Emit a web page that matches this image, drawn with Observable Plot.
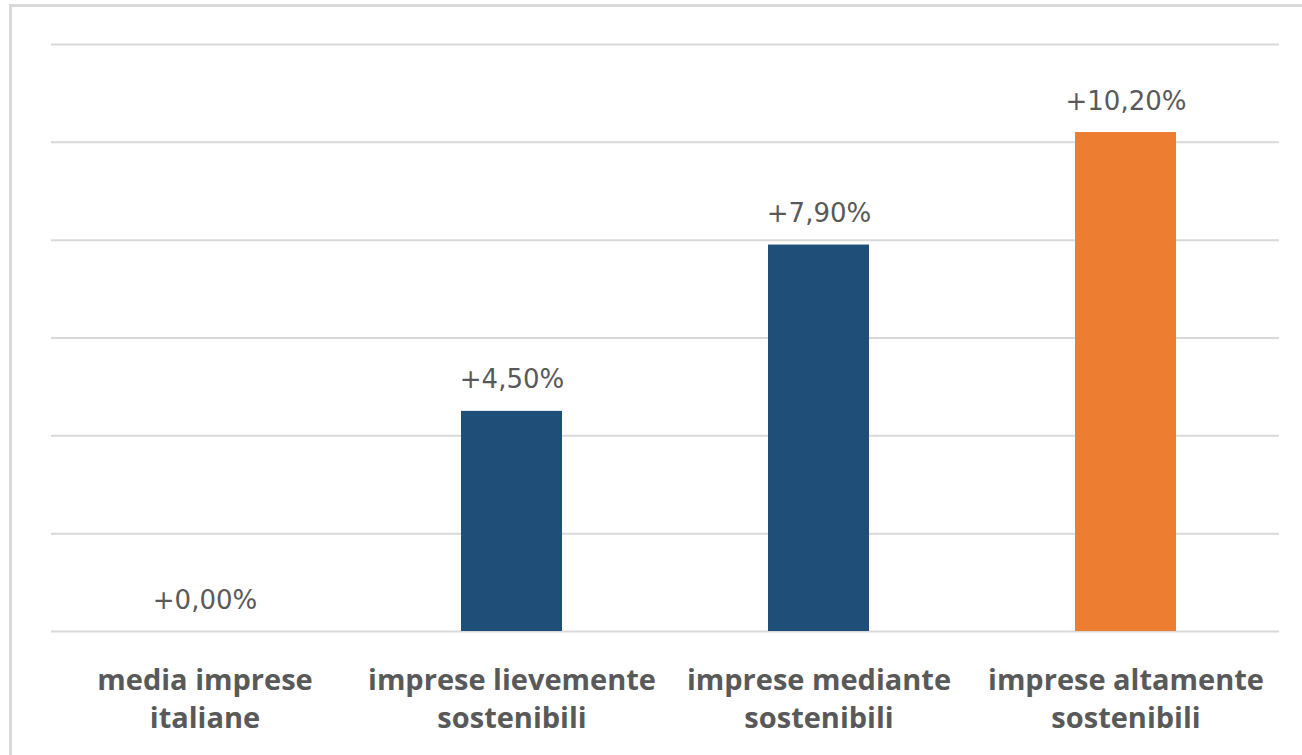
<!DOCTYPE html>
<html>
<head>
<meta charset="utf-8">
<script src="https://cdn.jsdelivr.net/npm/d3@7"></script>
<script src="https://cdn.jsdelivr.net/npm/@observablehq/plot@0.6"></script>
<style>
  html, body { margin: 0; padding: 0; background: #fff; overflow: hidden; }
  #wrap { position: relative; width: 1302px; height: 755px; }
  #border { position: absolute; left: 9px; top: 4px; width: 1310px; height: 770px; border: 3px solid #d9d9d9; box-sizing: border-box; pointer-events: none; }
  #chart { position: absolute; left: 0; top: 0; }
</style>
</head>
<body>
<div id="wrap"><div id="border"></div><div id="chart"></div></div>
<script>
const categories = [
  "media imprese\nitaliane",
  "imprese lievemente\nsostenibili",
  "imprese mediante\nsostenibili",
  "imprese altamente\nsostenibili"
];
const values = [0.0, 4.5, 7.9, 10.2];
const labels = ["+0,00%", "+4,50%", "+7,90%", "+10,20%"];
const colors = ["#1F4E79", "#1F4E79", "#1F4E79", "#ED7D31"];
const gridTicks = [0, 2, 4, 6, 8, 10, 12];

const data = categories.map((c, i) => ({cat: c, value: values[i], label: labels[i], color: colors[i]}));

const chart = Plot.plot({
  width: 1302,
  height: 755,
  marginLeft: 51,
  marginRight: 23,
  marginTop: 44,
  marginBottom: 124,
  style: {fontFamily: "'DejaVu Sans', sans-serif", background: "transparent"},
  x: {domain: categories, paddingInner: 0.671, paddingOuter: 0.3355, label: null},
  y: {domain: [0, 12], axis: null},
  marks: [
    Plot.ruleY(gridTicks, {stroke: "#d9d9d9", strokeWidth: 2}),
    Plot.barY(data, {x: "cat", y: "value", fill: "color"}),
    Plot.text(data, {x: "cat", y: "value", text: "label", dy: -23, lineAnchor: "bottom", fontSize: 26, fill: "#595959", fontFamily: "'DejaVu Sans', sans-serif"}),
    Plot.axisX({tickSize: 0, tickPadding: 32, fontSize: 29, fontWeight: "bold", fill: "#595959", lineHeight: 1.31, label: null, fontFamily: "'Open Sans', sans-serif"})
  ]
});
document.getElementById("chart").appendChild(chart);
</script>
</body>
</html>
